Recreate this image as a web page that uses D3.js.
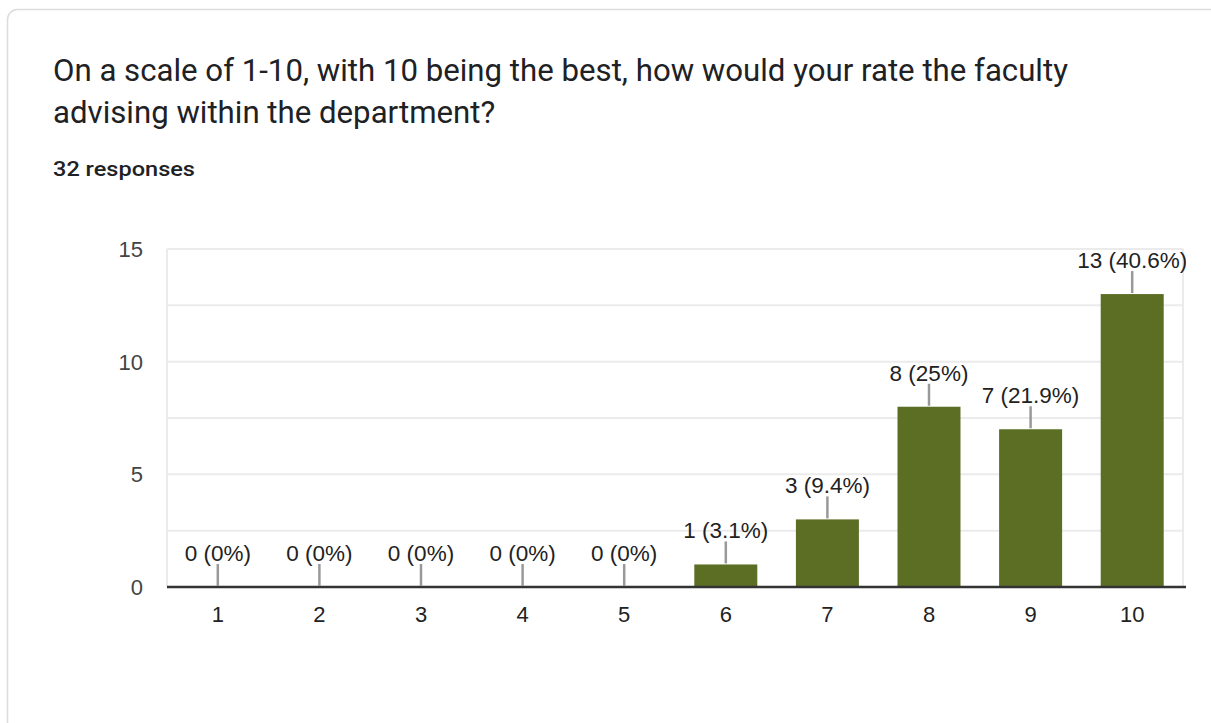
<!DOCTYPE html>
<html><head><meta charset="utf-8">
<script src="https://cdn.jsdelivr.net/npm/d3@7"></script>
<style>body{margin:0;background:#fff;}svg{display:block;}</style>
</head><body>
<svg id="c" width="1211" height="723"></svg>
<script>
const categories = ["1","2","3","4","5","6","7","8","9","10"];
const counts = [0,0,0,0,0,1,3,8,7,13];
const labels = ["0 (0%)","0 (0%)","0 (0%)","0 (0%)","0 (0%)","1 (3.1%)","3 (9.4%)","8 (25%)","7 (21.9%)","13 (40.6%)"];
const yTicks = [0,5,10,15];
const gridValues = [0,2.5,5,7.5,10,12.5,15];
const titleLines = ["On a scale of 1-10, with 10 being the best, how would your rate the faculty","advising within the department?"];
const subtitle = "32 responses";

const svg = d3.select("#c");
svg.append("defs").append("clipPath").attr("id","clip")
  .append("rect").attr("x",0).attr("y",0).attr("width",1186).attr("height",723);
svg.append("rect").attr("x",7.5).attr("y",9.5).attr("width",1230).attr("height",740)
  .attr("rx",10).attr("fill","#fff").attr("stroke","#dadce0").attr("stroke-width",1.5);

svg.selectAll("text.title").data(titleLines).join("text").attr("class","title")
  .attr("x",53).attr("y",(d,i)=>81+i*42)
  .attr("font-family","Roboto, 'Open Sans', sans-serif").attr("font-size",31.2)
  .attr("fill","#202124").text(d=>d);
svg.append("text").attr("x",53).attr("y",176).attr("font-family","Roboto, sans-serif")
  .attr("font-size",20).attr("font-weight",500).attr("fill","#202124")
  .attr("textLength",142).attr("lengthAdjust","spacingAndGlyphs").text(subtitle);

const L=167, R=1183, T=249, B=587;
const x = d3.scaleBand().domain(categories).range([L,R]).paddingInner(0.38).paddingOuter(0.19);
const y = d3.scaleLinear().domain([0,15]).range([B,T]);

const g = svg.append("g");
g.selectAll("line.grid").data(gridValues).join("line").attr("class","grid")
  .attr("x1",L).attr("x2",R).attr("y1",d=>y(d)).attr("y2",d=>y(d))
  .attr("stroke","#ebebeb").attr("stroke-width",2);
[L, R].forEach(xx=>g.append("line").attr("x1",xx).attr("x2",xx).attr("y1",T).attr("y2",B)
  .attr("stroke","#ebebeb").attr("stroke-width",2));

const fontA = "Arial, 'Liberation Sans', sans-serif";
g.selectAll("text.yt").data(yTicks).join("text").attr("class","yt")
  .attr("x",143).attr("y",d=>y(d)+8).attr("text-anchor","end")
  .attr("font-family",fontA).attr("font-size",22).attr("fill","#444")
  .text(d=>d);

g.selectAll("rect.bar").data(counts).join("rect").attr("class","bar")
  .attr("x",(d,i)=>x(categories[i])).attr("width",x.bandwidth())
  .attr("y",d=>y(d)).attr("height",d=>B-y(d)).attr("fill","#5b6e24");

g.append("line").attr("x1",L).attr("x2",R+3).attr("y1",B).attr("y2",B)
  .attr("stroke","#333").attr("stroke-width",2.5);

g.selectAll("line.lead").data(counts).join("line").attr("class","lead")
  .attr("x1",(d,i)=>x(categories[i])+x.bandwidth()/2).attr("x2",(d,i)=>x(categories[i])+x.bandwidth()/2)
  .attr("y1",d=>y(d)-1).attr("y2",d=>y(d)-23).attr("stroke","#999").attr("stroke-width",2.5);

g.append("g").attr("clip-path","url(#clip)").selectAll("text.lab").data(counts).join("text").attr("class","lab")
  .attr("x",(d,i)=>x(categories[i])+x.bandwidth()/2).attr("y",d=>y(d)-26)
  .attr("text-anchor","middle").attr("font-family",fontA)
  .attr("font-size",22.5).attr("fill","#222").text((d,i)=>labels[i]);

g.selectAll("text.xt").data(categories).join("text").attr("class","xt")
  .attr("x",d=>x(d)+x.bandwidth()/2).attr("y",622).attr("text-anchor","middle")
  .attr("font-family",fontA).attr("font-size",22).attr("fill","#222")
  .text(d=>d);
</script>
</body></html>
